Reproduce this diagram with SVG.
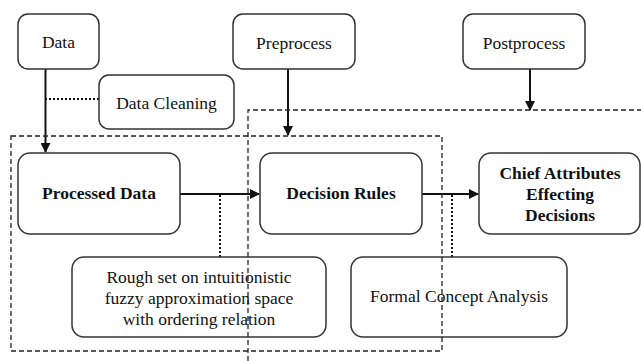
<svg xmlns="http://www.w3.org/2000/svg" width="641" height="361" viewBox="0 0 641 361">
<defs>
<style>
.box{fill:#fff;stroke:#333;stroke-width:1.5}
.t{font-family:"Liberation Serif","Times New Roman",serif;font-size:17.5px;fill:#111;text-anchor:middle}
.b{font-weight:bold}
.ln{stroke:#111;stroke-width:2;fill:none}
.dot{stroke:#111;stroke-width:2;stroke-dasharray:2 2;fill:none}
.dash{stroke:#222;stroke-width:1.3;stroke-dasharray:5 3;fill:none}
</style>
<marker id="ah" markerWidth="10" markerHeight="10" refX="9" refY="5" orient="auto" markerUnits="userSpaceOnUse">
<path d="M0,0 L10,5 L0,10 Z" fill="#111"/>
</marker>
</defs>
<rect width="641" height="361" fill="#fff"/>
<g id="connectors">
<line class="ln" x1="45.5" y1="69" x2="45.5" y2="152" marker-end="url(#ah)"/>
<line class="dot" x1="99" y1="99" x2="46" y2="99"/>
<line class="ln" x1="288" y1="69" x2="288" y2="135" marker-end="url(#ah)"/>
<line class="ln" x1="530" y1="69" x2="530" y2="110" marker-end="url(#ah)"/>
<line class="ln" x1="180" y1="194" x2="259" y2="194" marker-end="url(#ah)"/>
<line class="ln" x1="422" y1="194" x2="478" y2="194" marker-end="url(#ah)"/>
<line class="dot" x1="220" y1="195" x2="220" y2="257"/>
<line class="dot" x1="452" y1="195" x2="452" y2="257"/>
</g>
<g id="data">
<rect class="box" x="18" y="14" width="81" height="55" rx="10"/>
<text class="t" x="58.5" y="48">Data</text>
</g>
<g id="preprocess">
<rect class="box" x="233" y="14" width="122" height="55" rx="10"/>
<text class="t" x="294" y="49">Preprocess</text>
</g>
<g id="postprocess">
<rect class="box" x="463" y="14" width="122" height="55" rx="10"/>
<text class="t" x="524" y="49">Postprocess</text>
</g>
<g id="datacleaning">
<rect class="box" x="99" y="75" width="135" height="54" rx="10"/>
<text class="t" x="166.5" y="109">Data Cleaning</text>
</g>
<g id="processeddata">
<rect class="box" x="18" y="153" width="162" height="81" rx="12"/>
<text class="t b" x="99" y="199">Processed Data</text>
</g>
<g id="decisionrules">
<rect class="box" x="260" y="153" width="162" height="81" rx="12"/>
<text class="t b" x="341" y="199">Decision Rules</text>
</g>
<g id="chief">
<rect class="box" x="479" y="153" width="161" height="81" rx="12"/>
<text class="t b" x="560" y="179">Chief Attributes</text>
<text class="t b" x="560" y="200">Effecting</text>
<text class="t b" x="560" y="221">Decisions</text>
</g>
<g id="roughset">
<rect class="box" x="72" y="257" width="254" height="80" rx="12"/>
<text class="t" x="199" y="283">Rough set on intuitionistic</text>
<text class="t" x="199" y="304">fuzzy approximation space</text>
<text class="t" x="199" y="325">with ordering relation</text>
</g>
<g id="fca">
<rect class="box" x="351" y="257" width="216" height="80" rx="12"/>
<text class="t" x="459" y="302">Formal Concept Analysis</text>
</g>
<g id="containers">
<rect class="dash" x="11" y="136" width="431" height="215"/>
<path class="dash" d="M248,361 L248,110 L641,110"/>
</g>
</svg>
